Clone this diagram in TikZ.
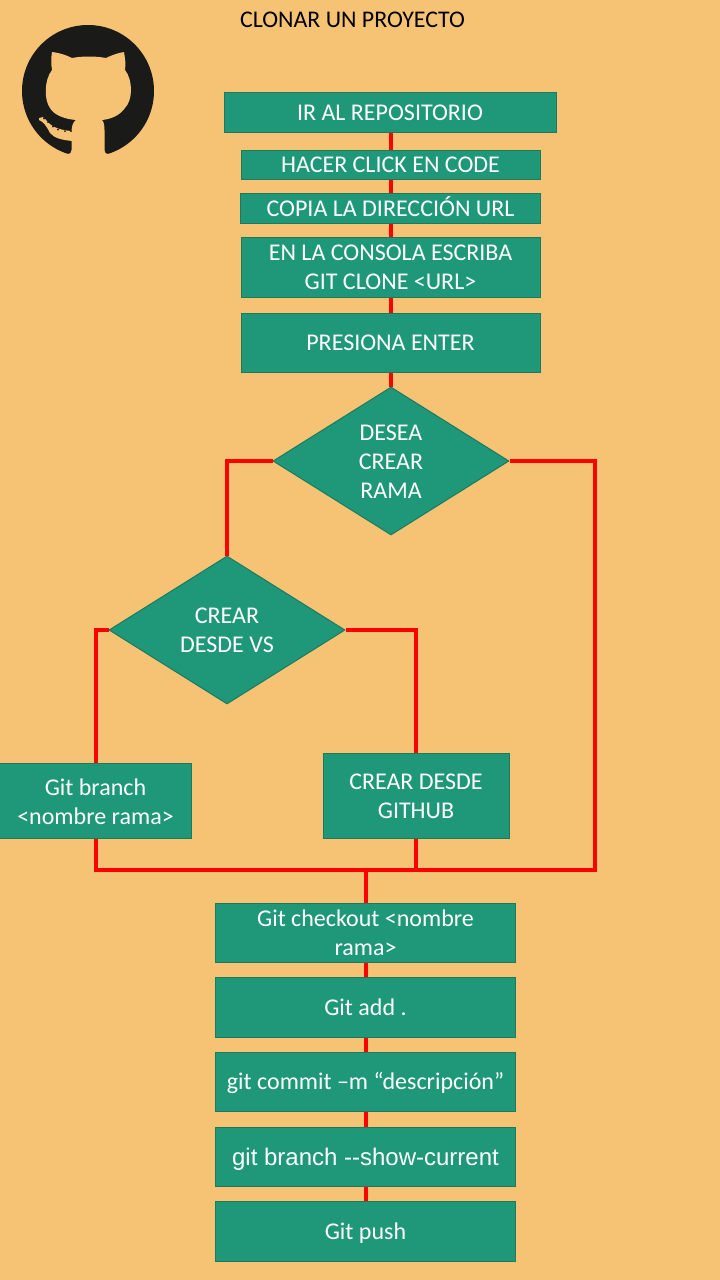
\documentclass[tikz,border=0pt]{standalone}
\usepackage{fontspec}
\setmainfont{Carlito}
\newfontfamily\arialf{Liberation Sans}
\usetikzlibrary{shapes.geometric,calc}
\definecolor{bgc}{HTML}{F6C375}
\definecolor{teal}{HTML}{1E9878}
\definecolor{tealb}{HTML}{1B7A60}
\definecolor{inkc}{HTML}{1A1A18}
\tikzset{
  px/.style={x=1pt,y=-1pt},
  boxn/.style={draw=tealb,line width=1pt,fill=teal,text=white,rectangle,inner sep=0pt,align=center,font=\fontsize{24}{29}\selectfont},
  dia/.style={draw=tealb,line width=1pt,fill=teal,text=white,diamond,inner sep=0pt,align=center,font=\fontsize{24}{29}\selectfont},
  conn/.style={draw=red,line width=4pt,line cap=butt,line join=miter},
}
\newcommand{\bx}[6][]{\node[boxn,#1,minimum width=#4pt,minimum height=#5pt] (#2) at (#3) {#6};}
\newcommand{\nudge}[2]{\raisebox{#1}[\height][\depth]{#2}}
\begin{document}
\begin{tikzpicture}[px]
\useasboundingbox (0,0) rectangle (720,1280);
\fill[bgc] (0,0) rectangle (720,1280);
\node[font=\fontsize{23.9}{28}\selectfont,text=black] (title) at (352.5,19.5) {CLONAR UN PROYECTO};
% logo
\fill[inkc] (88,91) circle (66);
\fill[bgc] (52,52) .. controls (60,53) and (66,55) .. (72,58) .. controls (82,56) and (96,56) .. (106,58)
  .. controls (112,55) and (118,53) .. (124,52) .. controls (125,58) and (126,64) .. (125,70)
  .. controls (133,80) and (133,100) .. (125,108) .. controls (120,115) and (112,119) .. (102,120)
  .. controls (104,122) and (104.5,126) .. (104.5,130) -- (104.5,150) .. controls (104.5,153) and (106,154) .. (108,154)
  -- (108,160) -- (68,160) -- (68,154) .. controls (70,154) and (71.5,153) .. (71.5,150) -- (71.5,133)
  .. controls (71.5,126) and (73,122) .. (76,120) .. controls (64,119) and (54,115) .. (50,108)
  .. controls (44,100) and (44,80) .. (52,70) .. controls (51,64) and (51,58) .. (52,52) -- cycle;
\fill[bgc] (39,118) .. controls (41,116) and (44,117) .. (46,120) .. controls (50,125) and (56,130) .. (72,131)
  -- (72,141) .. controls (62,140) and (54,138) .. (50,133) .. controls (47,127) and (44,122) .. (39,120) -- cycle;
\foreach \p in {(44,118.5),(48,122),(53,126.5),(58,129.5),(65,131),(71,131)}
  \fill[inkc] \p circle (1);
% nodes
\bx{n1}{390,112.5}{332}{40}{IR AL REPOSITORIO}
\bx{n2}{390.5,164.5}{299}{29}{HACER CLICK EN CODE}
\bx{n3}{390.5,208}{300}{30}{\nudge{1pt}{COPIA LA DIRECCIÓN URL}}
\bx{n4}{390.5,267}{299}{60}{EN LA CONSOLA ESCRIBA\\GIT CLONE <URL>}
\bx{n5}{390.5,342.5}{299}{59}{PRESIONA ENTER}
\node[dia,minimum width=236pt,minimum height=148pt] (d1) at (391,461) {\nudge{-1pt}{DESEA}\\\nudge{-1pt}{CREAR}\\\nudge{-1pt}{RAMA}};
\node[dia,minimum width=236pt,minimum height=148pt] (d2) at (227,630) {CREAR\\DESDE VS};
\bx{n6}{95.5,800.5}{192}{75}{\nudge{-1pt}{Git branch}\\\nudge{-1pt}{<nombre rama>}}
\bx{n7}{416,795.5}{186}{85}{\nudge{-1pt}{CREAR DESDE}\\\nudge{-1pt}{GITHUB}}
\bx{n8}{365.5,932.5}{300}{59}{Git checkout <nombre\\rama>}
\bx{n9}{365.5,1007.5}{300}{60}{Git add .}
\bx{n10}{365.5,1082}{300}{59}{\nudge{-1pt}{git commit –m “descripción”}}
\bx[font={\arialf\fontsize{24}{28}\selectfont}]{n11}{365.5,1157}{300}{59}{\nudge{-2pt}{git branch -{}-show-current}}
\bx{n12}{365.5,1231.5}{300}{60}{\nudge{-1.5pt}{Git push}}
\coordinate (cl) at (95.5,870);
\coordinate (cr) at (595,870);
\coordinate (junc) at (n8.north |- cl);
% connectors
\draw[conn] (n1.south -| d1.north) -- (n2.north -| d1.north);
\draw[conn] (n2.south -| d1.north) -- (n3.north -| d1.north);
\draw[conn] (n3.south -| d1.north) -- (n4.north -| d1.north);
\draw[conn] (n4.south -| d1.north) -- (n5.north -| d1.north);
\draw[conn] (n5.south -| d1.north) -- (d1.north);
\draw[conn] (d1.west) -| (d2.north);
\draw[conn] (d1.east) -| (cr) -- (cl) -- (n6.south);
\draw[conn] (d2.west) -| (n6.north);
\draw[conn] (d2.east) -| (n7.north);
\draw[conn] (n7.south) -- (n7.south |- junc);
\draw[conn] (junc) -- (n8.north);
\draw[conn] (n8.south) -- (n9.north);
\draw[conn] (n9.south) -- (n10.north);
\draw[conn] (n10.south) -- (n11.north);
\draw[conn] (n11.south) -- (n12.north);
\end{tikzpicture}
\end{document}
